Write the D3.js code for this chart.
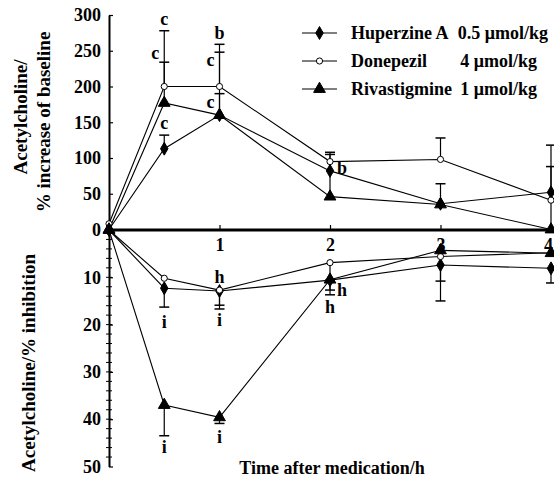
<!DOCTYPE html>
<html>
<head>
<meta charset="utf-8">
<script src="https://cdn.jsdelivr.net/npm/d3@7"></script>
<style>
body { margin: 0; background: #fff; }
svg text { font-family: "Liberation Serif", "Times New Roman", serif; font-weight: bold; fill: #000; }
</style>
</head>
<body>
<svg id="chart" width="554" height="479"></svg>
<script>
// time points (h)
var times = [0, 0.5, 1, 2, 3, 4];
var xTicks = [1, 2, 3, 4];
var increaseTicks = [0, 50, 100, 150, 200, 250, 300];
var inhibitionTicks = [10, 20, 30, 40, 50];

var seriesNames = ["Huperzine A", "Donepezil", "Rivastigmine"];
var seriesDoses = ["0.5 \u03bcmol/kg", "4 \u03bcmol/kg", "1 \u03bcmol/kg"];

// % increase of baseline (upper panel)
var hupIncrease = [0, 113, 160, 82, 36, 52];
var donIncrease = [8, 200, 200, 95, 98, 41];
var rivIncrease = [0, 177, 160, 46, 35, 0];
var hupIncreaseErr = [0, 19, 30, 0, 28, 36];
var donIncreaseErr = [0, 78, 59, 10, 30, 0];
var rivIncreaseErr = [0, 57, 88, 62, 0, 118];

// % inhibition (lower panel)
var hupInhibition = [0, 12.3, 12.9, 10.6, 7.4, 8.1];
var donInhibition = [0, 10.2, 12.7, 6.9, 5.6, 4.8];
var rivInhibition = [0, 37, 39.6, 10.5, 4.3, 4.9];
var hupInhibitionErr = [0, 4, 3.8, 3.1, 7.6, 3.1];
var donInhibitionErr = [0, 0, 3.2, 3.7, 5.2, 0];
var rivInhibitionErr = [0, 6.5, 1.3, 2.2, 0, 0];

// significance letters: time, value, letter, side (-1 left, 0 centre, 1 right)
var increaseLetters = [
  [0.5, 294, "c", 0], [0.5, 247, "c", -1], [0.5, 149, "c", 0],
  [1, 275, "b", 0], [1, 237, "c", -1], [1, 178, "c", -1],
  [2, 86, "b", 1]
];
var inhibitionLetters = [
  [0.5, 19.5, "i", 0], [0.5, 45.9, "i", 0],
  [1, 9.9, "h", 0], [1, 19.0, "i", 0], [1, 43.8, "i", 0],
  [2, 12.7, "h", 1], [2, 16.3, "h", 0]
];

var svg = d3.select("#chart");
var x = d3.scaleLinear().domain([0, 4]).range([109, 551]);
var yInc = d3.scaleLinear().domain([0, 300]).range([229.5, 15]);
var yInh = d3.scaleLinear().domain([0, 50]).range([230, 466.5]);

var shapes = [d3.symbolDiamond, d3.symbolCircle, d3.symbolTriangle];
var shapeSize = [48, 30, 60];
var shapeFill = ["#000", "#fff", "#000"];
var fs = 18;

// axes
var gInc = svg.append("g").attr("transform", "translate(109,0)")
  .call(d3.axisLeft(yInc).tickValues(increaseTicks).tickSizeInner(-4).tickSizeOuter(0).tickPadding(8));
var gInh = svg.append("g").attr("transform", "translate(109,0)")
  .call(d3.axisLeft(yInh).tickValues(inhibitionTicks).tickSizeInner(-4).tickSizeOuter(0).tickPadding(8));
[gInc, gInh].forEach(function (g) {
  g.select(".domain").attr("stroke-width", 2);
  g.selectAll("text").attr("font-size", fs).attr("font-family", null);
  g.selectAll(".tick line").attr("stroke-width", 1.2);
});
// minor ticks on the inhibition axis
svg.append("g").selectAll("line").data(d3.range(2, 50, 2)).enter().append("line")
  .attr("x1", 106).attr("x2", 112)
  .attr("y1", function (d) { return yInh(d); }).attr("y2", function (d) { return yInh(d); })
  .attr("stroke", "#000").attr("stroke-width", 1);

var gx = svg.append("g").attr("transform", "translate(0,230)")
  .call(d3.axisBottom(x).tickValues(xTicks).tickFormat(d3.format("d"))
    .tickSizeInner(-5).tickSizeOuter(0).tickPadding(8));
gx.select(".domain").remove();
gx.selectAll("text").attr("font-size", fs).attr("font-family", null)
  .attr("dx", function (d) { return d === 4 ? -3 : 0; });
gx.selectAll(".tick line").attr("stroke-width", 1.2);
svg.append("line").attr("x1", x(0)).attr("x2", 554).attr("y1", 230).attr("y2", 230)
  .attr("stroke", "#000").attr("stroke-width", 3);

function drawPanel(y, values, errs) {
  var line = d3.line().x(function (d, i) { return x(times[i]); }).y(function (d) { return y(d); });
  values.forEach(function (vals) {
    svg.append("path").datum(vals).attr("d", line)
      .attr("fill", "none").attr("stroke", "#000").attr("stroke-width", 1.1);
  });
  values.forEach(function (vals, s) {
    var g = svg.append("g");
    vals.forEach(function (v, i) {
      var e = errs[s][i];
      if (!e) return;
      var cx = x(times[i]), y0 = y(v), y1 = y(v + e);
      g.append("line").attr("x1", cx).attr("x2", cx).attr("y1", y0).attr("y2", y1)
        .attr("stroke", "#000").attr("stroke-width", 1.2);
      g.append("line").attr("x1", cx - 5).attr("x2", cx + 5).attr("y1", y1).attr("y2", y1)
        .attr("stroke", "#000").attr("stroke-width", 1.5);
    });
  });
  values.forEach(function (vals, s) {
    svg.append("g").selectAll("path").data(vals).enter().append("path")
      .attr("d", d3.symbol().type(shapes[s]).size(shapeSize[s]))
      .attr("transform", function (d, i) { return "translate(" + x(times[i]) + "," + y(d) + ")"; })
      .attr("fill", shapeFill[s]).attr("stroke", "#000").attr("stroke-width", 1);
  });
}

drawPanel(yInc, [hupIncrease, donIncrease, rivIncrease], [hupIncreaseErr, donIncreaseErr, rivIncreaseErr]);
drawPanel(yInh, [hupInhibition, donInhibition, rivInhibition], [hupInhibitionErr, donInhibitionErr, rivInhibitionErr]);

function drawLetters(y, list) {
  svg.append("g").selectAll("text").data(list).enter().append("text")
    .attr("x", function (d) { return x(d[0]) + (d[3] < 0 ? -9 : d[3] > 0 ? 12 : 0); })
    .attr("y", function (d) { return y(d[1]); })
    .attr("text-anchor", "middle").attr("dominant-baseline", "central")
    .attr("font-size", fs).text(function (d) { return d[2]; });
}
drawLetters(yInc, increaseLetters);
drawLetters(yInh, inhibitionLetters);

// legend
var legendY = [33, 61, 89];
var doseRight = [548, 537, 537];
seriesNames.forEach(function (name, s) {
  var g = svg.append("g").attr("transform", "translate(0," + legendY[s] + ")");
  g.append("line").attr("x1", 302).attr("x2", 337).attr("stroke", "#000").attr("stroke-width", 1.1);
  g.append("path").attr("d", d3.symbol().type(shapes[s]).size(shapeSize[s]))
    .attr("transform", "translate(319.5,0)")
    .attr("fill", shapeFill[s]).attr("stroke", "#000").attr("stroke-width", 1);
  g.append("text").attr("x", 351).attr("dominant-baseline", "central").attr("font-size", fs).text(name);
  g.append("text").attr("x", doseRight[s]).attr("text-anchor", "end")
    .attr("dominant-baseline", "central").attr("font-size", fs).text(seriesDoses[s]);
});

// axis titles
svg.append("text").attr("transform", "translate(20,117) rotate(-90)").attr("text-anchor", "middle")
  .attr("dominant-baseline", "central").attr("font-size", 19).text("Acetylcholine/");
svg.append("text").attr("transform", "translate(43,122) rotate(-90)").attr("text-anchor", "middle")
  .attr("dominant-baseline", "central").attr("font-size", 19).text("% increase of baseline");
svg.append("text").attr("transform", "translate(28,363) rotate(-90)").attr("text-anchor", "middle")
  .attr("dominant-baseline", "central").attr("font-size", 19).text("Acetylcholine/% inhibition");
svg.append("text").attr("x", 332).attr("y", 468).attr("text-anchor", "middle")
  .attr("dominant-baseline", "central").attr("font-size", fs).text("Time after medication/h");
</script>
</body>
</html>
